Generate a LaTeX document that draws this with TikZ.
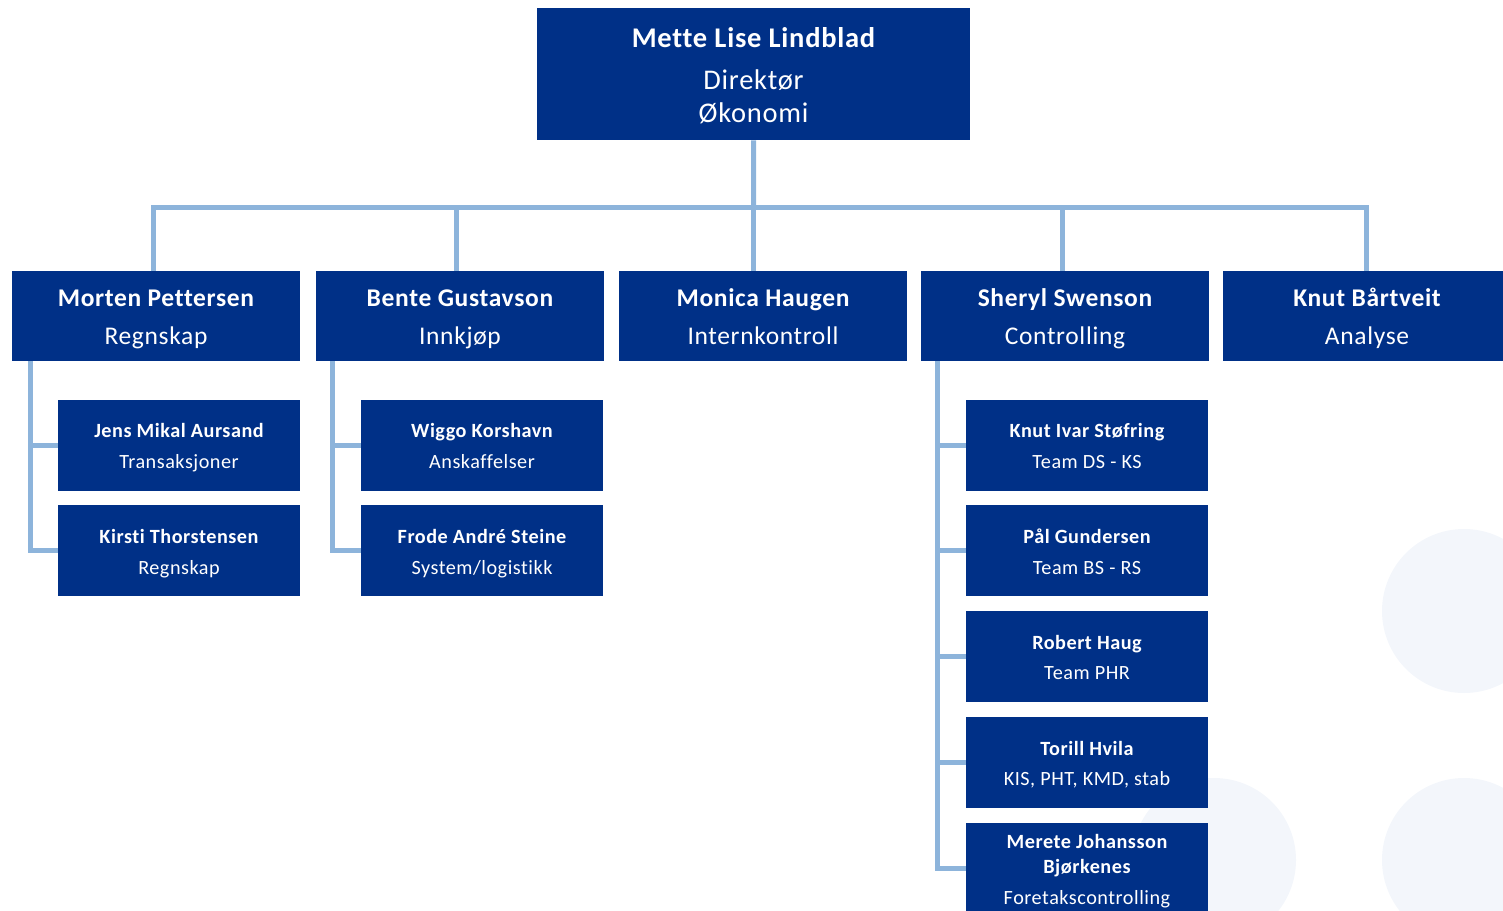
\documentclass[tikz,border=0pt]{standalone}
\usepackage{fontspec}
\setmainfont{Carlito}[Ligatures=CommonOff,LetterSpace=2.6]
\definecolor{navy}{RGB}{0,48,135}
\definecolor{conn}{RGB}{141,180,219}
\definecolor{bgcirc}{RGB}{243,246,251}
\begin{document}
\begin{tikzpicture}[x=1pt,y=-1pt,
  box/.style={fill=navy,draw=none,inner sep=0pt,anchor=north west},
  txt/.style={text=white,inner sep=0pt,anchor=base},
  ttl/.style={txt,font=\fontsize{28.5}{32}\selectfont\bfseries},
  ttr/.style={txt,font=\fontsize{28.5}{32}\selectfont},
  hn/.style={txt,font=\fontsize{25.5}{28}\selectfont\bfseries},
  hr/.style={txt,font=\fontsize{25.5}{28}\selectfont},
  sn/.style={txt,font=\fontsize{20.2}{22}\selectfont\bfseries},
  sr/.style={txt,font=\fontsize{20.2}{22}\selectfont},
  link/.style={draw=conn,line width=5pt},
  circ/.style={fill=bgcirc,draw=none}]
\useasboundingbox (0,0) rectangle (1503,910);
\clip (0,0) rectangle (1503,910);
% background circles
\fill[circ] (1464,611) circle (82);
\fill[circ] (1214,860) circle (82);
\fill[circ] (1464,860) circle (82);
% top
\node[box,minimum width=433pt,minimum height=132pt] (top) at (537,8) {};
\node[ttl] (topn) at (753.5,47) {Mette Lise Lindblad};
\node[ttr] (topr1) at (753.5,89) {Direktør};
\node[ttr] (topr2) at (753.5,122) {Økonomi};
% level 2
\node[box,minimum width=288pt,minimum height=90pt] (m1) at (12,271) {};
\node[box,minimum width=288pt,minimum height=90pt] (m2) at (316,271) {};
\node[box,minimum width=288pt,minimum height=90pt] (m3) at (619,271) {};
\node[box,minimum width=288pt,minimum height=90pt] (m4) at (921,271) {};
\node[box,minimum width=280pt,minimum height=90pt] (m5) at (1223,271) {};
\node[hn] (m1n) at (156,306) {Morten Pettersen};
\node[hr] (m1r) at (156,344) {Regnskap};
\node[hn] (m2n) at (460,306) {Bente Gustavson};
\node[hr] (m2r) at (460,344) {Innkjøp};
\node[hn] (m3n) at (763,306) {Monica Haugen};
\node[hr] (m3r) at (763,344) {Internkontroll};
\node[hn] (m4n) at (1065,306) {Sheryl Swenson};
\node[hr] (m4r) at (1065,344) {Controlling};
\node[hn] (m5n) at (1367,306) {Knut Bårtveit};
\node[hr] (m5r) at (1367,344) {Analyse};
% level 3 left
\node[box,minimum width=242pt,minimum height=91pt] (a1) at (58,400) {};
\node[box,minimum width=242pt,minimum height=91pt] (a2) at (58,505) {};
\node[sn] (a1n) at (179,437) {Jens Mikal Aursand};
\node[sr] (a1r) at (179,468) {Transaksjoner};
\node[sn] (a2n) at (179,543) {Kirsti Thorstensen};
\node[sr] (a2r) at (179,574) {Regnskap};
% level 3 middle
\node[box,minimum width=242pt,minimum height=91pt] (b1) at (361,400) {};
\node[box,minimum width=242pt,minimum height=91pt] (b2) at (361,505) {};
\node[sn] (b1n) at (482,437) {Wiggo Korshavn};
\node[sr] (b1r) at (482,468) {Anskaffelser};
\node[sn] (b2n) at (482,543) {Frode André Steine};
\node[sr] (b2r) at (482,574) {System/logistikk};
% level 3 right
\node[box,minimum width=242pt,minimum height=91pt] (c1) at (966,400) {};
\node[box,minimum width=242pt,minimum height=91pt] (c2) at (966,505) {};
\node[box,minimum width=242pt,minimum height=91pt] (c3) at (966,611) {};
\node[box,minimum width=242pt,minimum height=91pt] (c4) at (966,717) {};
\node[box,minimum width=242pt,minimum height=91pt] (c5) at (966,823) {};
\node[sn] (c1n) at (1087,437) {Knut Ivar Støfring};
\node[sr] (c1r) at (1087,468) {Team DS - KS};
\node[sn] (c2n) at (1087,543) {Pål Gundersen};
\node[sr] (c2r) at (1087,574) {Team BS - RS};
\node[sn] (c3n) at (1087,649) {Robert Haug};
\node[sr] (c3r) at (1087,679) {Team PHR};
\node[sn] (c4n) at (1087,755) {Torill Hvila};
\node[sr] (c4r) at (1087,785) {KIS, PHT, KMD, stab};
\node[sn] (c5n) at (1087,848) {Merete Johansson};
\node[sn] (c5m) at (1087,873) {Bjørkenes};
\node[sr] (c5r) at (1087,904) {Foretakscontrolling};
% connectors level 1-2
\coordinate (bus) at (753.5,207);
\coordinate (d1) at (153,207);
\coordinate (d2) at (456,207);
\coordinate (d3) at (753.5,207);
\coordinate (d4) at (1062,207);
\coordinate (d5) at (1366,207);
\draw[link] (top.south) -- (bus);
\draw[link] (d1 |- m1.north) -- (d1) -- (d5) -- (d5 |- m5.north);
\draw[link] (d2) -- (d2 |- m2.north);
\draw[link] (d3) -- (d3 |- m3.north);
\draw[link] (d4) -- (d4 |- m4.north);
% sub connectors
\coordinate (s1) at (30,361);
\coordinate (s2) at (332,361);
\coordinate (s3) at (937,361);
\draw[link] (s1) -- (s1 |- a2.west) -- (a2.west);
\draw[link] (s1 |- a1.west) -- (a1.west);
\draw[link] (s2) -- (s2 |- b2.west) -- (b2.west);
\draw[link] (s2 |- b1.west) -- (b1.west);
\draw[link] (s3) -- (s3 |- c5.west) -- (c5.west);
\draw[link] (s3 |- c1.west) -- (c1.west);
\draw[link] (s3 |- c2.west) -- (c2.west);
\draw[link] (s3 |- c3.west) -- (c3.west);
\draw[link] (s3 |- c4.west) -- (c4.west);
\end{tikzpicture}
\end{document}
